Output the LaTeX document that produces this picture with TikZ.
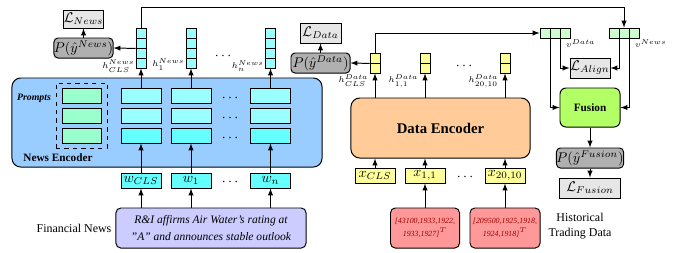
\documentclass[tikz,border=0pt]{standalone}
\usepackage{fontspec}
\setmainfont{Liberation Serif}
\usetikzlibrary{calc}

\definecolor{encblue}{HTML}{99CCFF}
\definecolor{tokcyan}{HTML}{99FFFF}
\definecolor{tokdark}{HTML}{66FFFF}
\definecolor{promptgreen}{HTML}{99FFCC}
\definecolor{newsviolet}{HTML}{CCCCFF}
\definecolor{encpeach}{HTML}{FFCC99}
\definecolor{datayellow}{HTML}{FFFF99}
\definecolor{rawred}{HTML}{FF9999}
\definecolor{rawtext}{HTML}{990000}
\definecolor{vgreen}{HTML}{CCFFCC}
\definecolor{fusiongreen}{HTML}{B3FF66}
\definecolor{pgray}{HTML}{B0B0B0}
\definecolor{lgray}{HTML}{E6E6E6}

\tikzset{
  box/.style={draw, line width=0.7pt, inner sep=0pt},
  cell/.style={draw, line width=0.6pt, inner sep=0pt},
  encbox/.style={box, rounded corners=0.22cm},
  tokcell/.style={cell, fill=tokcyan, minimum width=1cm, minimum height=0.375cm},
  promptcell/.style={cell, fill=promptgreen, minimum width=0.975cm, minimum height=0.375cm},
  hnewscell/.style={cell, fill=tokcyan, minimum width=0.25cm, minimum height=0.25cm},
  hdatacell/.style={cell, fill=datayellow, minimum width=0.25cm, minimum height=0.25cm},
  vcell/.style={cell, fill=vgreen, minimum width=0.25cm, minimum height=0.25cm},
  wbox/.style={box, fill=tokdark, minimum width=1cm, minimum height=0.375cm},
  xbox/.style={box, fill=datayellow, minimum width=1cm, minimum height=0.375cm},
  pbox/.style={box, fill=pgray, rounded corners=0.1cm, minimum height=0.5cm},
  lbox/.style={box, fill=lgray, minimum height=0.5cm},
  rawbox/.style={box, fill=rawred, rounded corners=0.12cm, minimum height=1cm,
    align=center, text=rawtext, font=\itshape\fontsize{5.6}{8.8}\selectfont},
  hlabel/.style={inner sep=0.5pt, font=\fontsize{6.5}{7}\selectfont},
  dotsnode/.style={inner sep=0pt},
  plainlabel/.style={align=center, font=\fontsize{8.5}{10.6}\selectfont}
}

\begin{document}
\begin{tikzpicture}[x=0.025cm,y=-0.025cm,>=latex,line width=0.7pt]
	\useasboundingbox (0,0) rectangle (681,252);
	% news encoder
	\node[encbox, fill=encblue, minimum width=7.75cm, minimum height=2.225cm] (newsenc) at (167,122.5) {};
	\node[font=\footnotesize\bfseries, inner sep=0pt] (newsname) at (58,158) {News Encoder};
	\node[draw, dashed, line width=0.7pt, minimum width=1.275cm, minimum height=1.625cm] (prompts) at (81.5,115.5) {};
	\node[font=\scriptsize\bfseries\itshape, inner sep=0pt] (promptname) at (34,98) {Prompts};
	\foreach \i in {1,2,3}
		\node[promptcell] (pr\i) at (81.5,{75.5+20*\i}) {};
	\foreach \c/\x in {cls/141,one/191,n/270.5}{
		\foreach \i in {1,2}
			\node[tokcell] (tk\c\i) at (\x,{75.5+20*\i}) {};
		\node[tokcell, fill=tokdark] (tk\c3) at (\x,135.5) {};
	}
	\foreach \y in {98,118,138}
		\node[dotsnode] (edots\y) at (230,\y) {$\cdots$};
	% tokens and news text
	\node[wbox] (wcls) at (141,180.5) {$w_{CLS}$};
	\node[wbox] (wone) at (191,180.5) {$w_{1}$};
	\node[wbox] (wn) at (270.5,180.5) {$w_{n}$};
	\node[dotsnode] (wdots) at (230,182) {$\cdots$};
	\node[box, fill=newsviolet, rounded corners=0.12cm, minimum width=4.75cm, minimum height=1cm,
		align=center, font=\itshape\fontsize{8.2}{12}\selectfont] (newstext) at (211,228)
		{R\&I affirms Air Water's rating at\\"A" and announces stable outlook};
	\node[plainlabel] (newslabel) at (74,228) {Financial News};
	% news hidden states
	\foreach \c/\x in {cls/141,one/191,n/270.5}
		\foreach \i in {1,...,4}
			\node[hnewscell] (hn\c\i) at (\x,{23+10*\i}) {};
	\node[hlabel, anchor=north east] (hnlabcls) at ([yshift=-1pt]hncls4.north west) {$h^{News}_{CLS}$};
	\node[hlabel, anchor=east] (hnlabone) at ([yshift=-1pt]hnone4.west) {$h^{News}_{1}$};
	\node[hlabel, anchor=east] (hnlabn) at ([yshift=-2pt]hnn4.west) {$h^{News}_{n}$};
	\node[dotsnode] (hndots) at (223,56) {$\cdots$};
	\node[pbox, minimum width=1.375cm] (pnews) at (83.5,48) {$P(\hat{y}^{News})$};
	\node[lbox, minimum width=0.975cm, minimum height=0.45cm] (lnews) at (83.5,19) {$\mathcal{L}_{News}$};
	\foreach \c in {cls,one,n}{
		\draw[->] (tk\c1.north) -- (hn\c4.south);
		\draw[->] (w\c.north) -- (tk\c3.south);
		\draw[->] (newstext.north -| w\c) -- (w\c.south);
	}
	\draw[->] (hncls2.south west) -- (pnews.east);
	\draw[->] (pnews) -- (lnews);
	% data encoder
	\node[encbox, fill=encpeach, minimum width=4.475cm, minimum height=1.5cm,
		font=\bfseries\fontsize{10.5}{12}\selectfont] (dataenc) at (440.5,128) {Data Encoder};
	\node[xbox] (xcls) at (375,175.5) {$x_{CLS}$};
	\node[xbox] (xone) at (425,175.5) {$x_{1,1}$};
	\node[xbox] (xn) at (505,175.5) {$x_{20,10}$};
	\node[dotsnode] (xdots) at (465,177) {$\cdots$};
	\node[rawbox, minimum width=1.725cm] (rawa) at (425,228) {[43100,1933,1922,\\1933,1927]$^T$};
	\node[rawbox, minimum width=1.75cm] (rawb) at (505,228) {[209500,1925,1918,\\1924,1918]$^T$};
	\node[plainlabel] (datalabel) at (580,226) {Historical\\Trading Data};
	\foreach \c/\x in {cls/375,one/425,n/505}
		\foreach \i in {1,2}
			\node[hdatacell] (hd\c\i) at (\x,{48+10*\i}) {};
	\node[hlabel, anchor=north east] (hdlabcls) at (hdcls2.south west) {$h^{Data}_{CLS}$};
	\node[hlabel, anchor=north east] (hdlabone) at (hdone2.south west) {$h^{Data}_{1,1}$};
	\node[hlabel, anchor=north east] (hdlabn) at (hdn2.south west) {$h^{Data}_{20,10}$};
	\node[dotsnode] (hddots) at (464,66) {$\cdots$};
	\node[pbox, minimum width=1.475cm] (pdata) at (320.5,63) {$P(\hat{y}^{Data})$};
	\node[lbox, minimum width=1.025cm] (ldata) at (320.5,33) {$\mathcal{L}_{Data}$};
	\foreach \c in {cls,one,n}{
		\draw[->] (dataenc.north -| hd\c2) -- (hd\c2.south);
		\draw[->] (x\c.north) -- (dataenc.south -| x\c);
	}
	\draw[->] (rawa.north) -- (xone.south);
	\draw[->] (rawb.north) -- (xn.south);
	\draw[->] (hdcls1.south west) -- (pdata.east);
	\draw[->] (pdata) -- (ldata);
	% alignment and fusion
	\foreach \i in {1,2,3}
		\node[vcell] (vd\i) at ({535+10*\i},33) {};
	\foreach \i in {1,2,3}
		\node[vcell] (vn\i) at ({604+10*\i},33) {};
	\node[hlabel, anchor=north west] (vdlab) at (vd3.south) {$v^{Data}$};
	\node[hlabel, anchor=north west] (vnlab) at (vn3.south) {$v^{News}$};
	\node[lbox, minimum width=1cm] (lalign) at (590,68) {$\mathcal{L}_{Align}$};
	\node[box, fill=fusiongreen, rounded corners=0.15cm, minimum width=1.5cm, minimum height=0.975cm,
		font=\footnotesize\bfseries] (fusion) at (590,107.5) {Fusion};
	\node[pbox, minimum width=1.525cm] (pfusion) at (590,158) {$P(\hat{y}^{Fusion})$};
	\node[lbox, minimum width=1.525cm] (lfusion) at (590,188) {$\mathcal{L}_{Fusion}$};
	\draw[->] (hncls1.north) -- ++(0,-20) -| (vn2.north);
	\draw[->] (hdcls1.north) |- (vd1.west);
	\draw[->] (vd1.south east) |- (fusion.west);
	\draw[->] (vd2.south east) |- (lalign.west);
	\draw[->] (vn1.south east) |- (lalign.east);
	\draw[->] (vn2.south east) |- (fusion.east);
	\draw[->] (fusion) -- (pfusion);
	\draw[->] (pfusion) -- (lfusion);
\end{tikzpicture}
\end{document}
